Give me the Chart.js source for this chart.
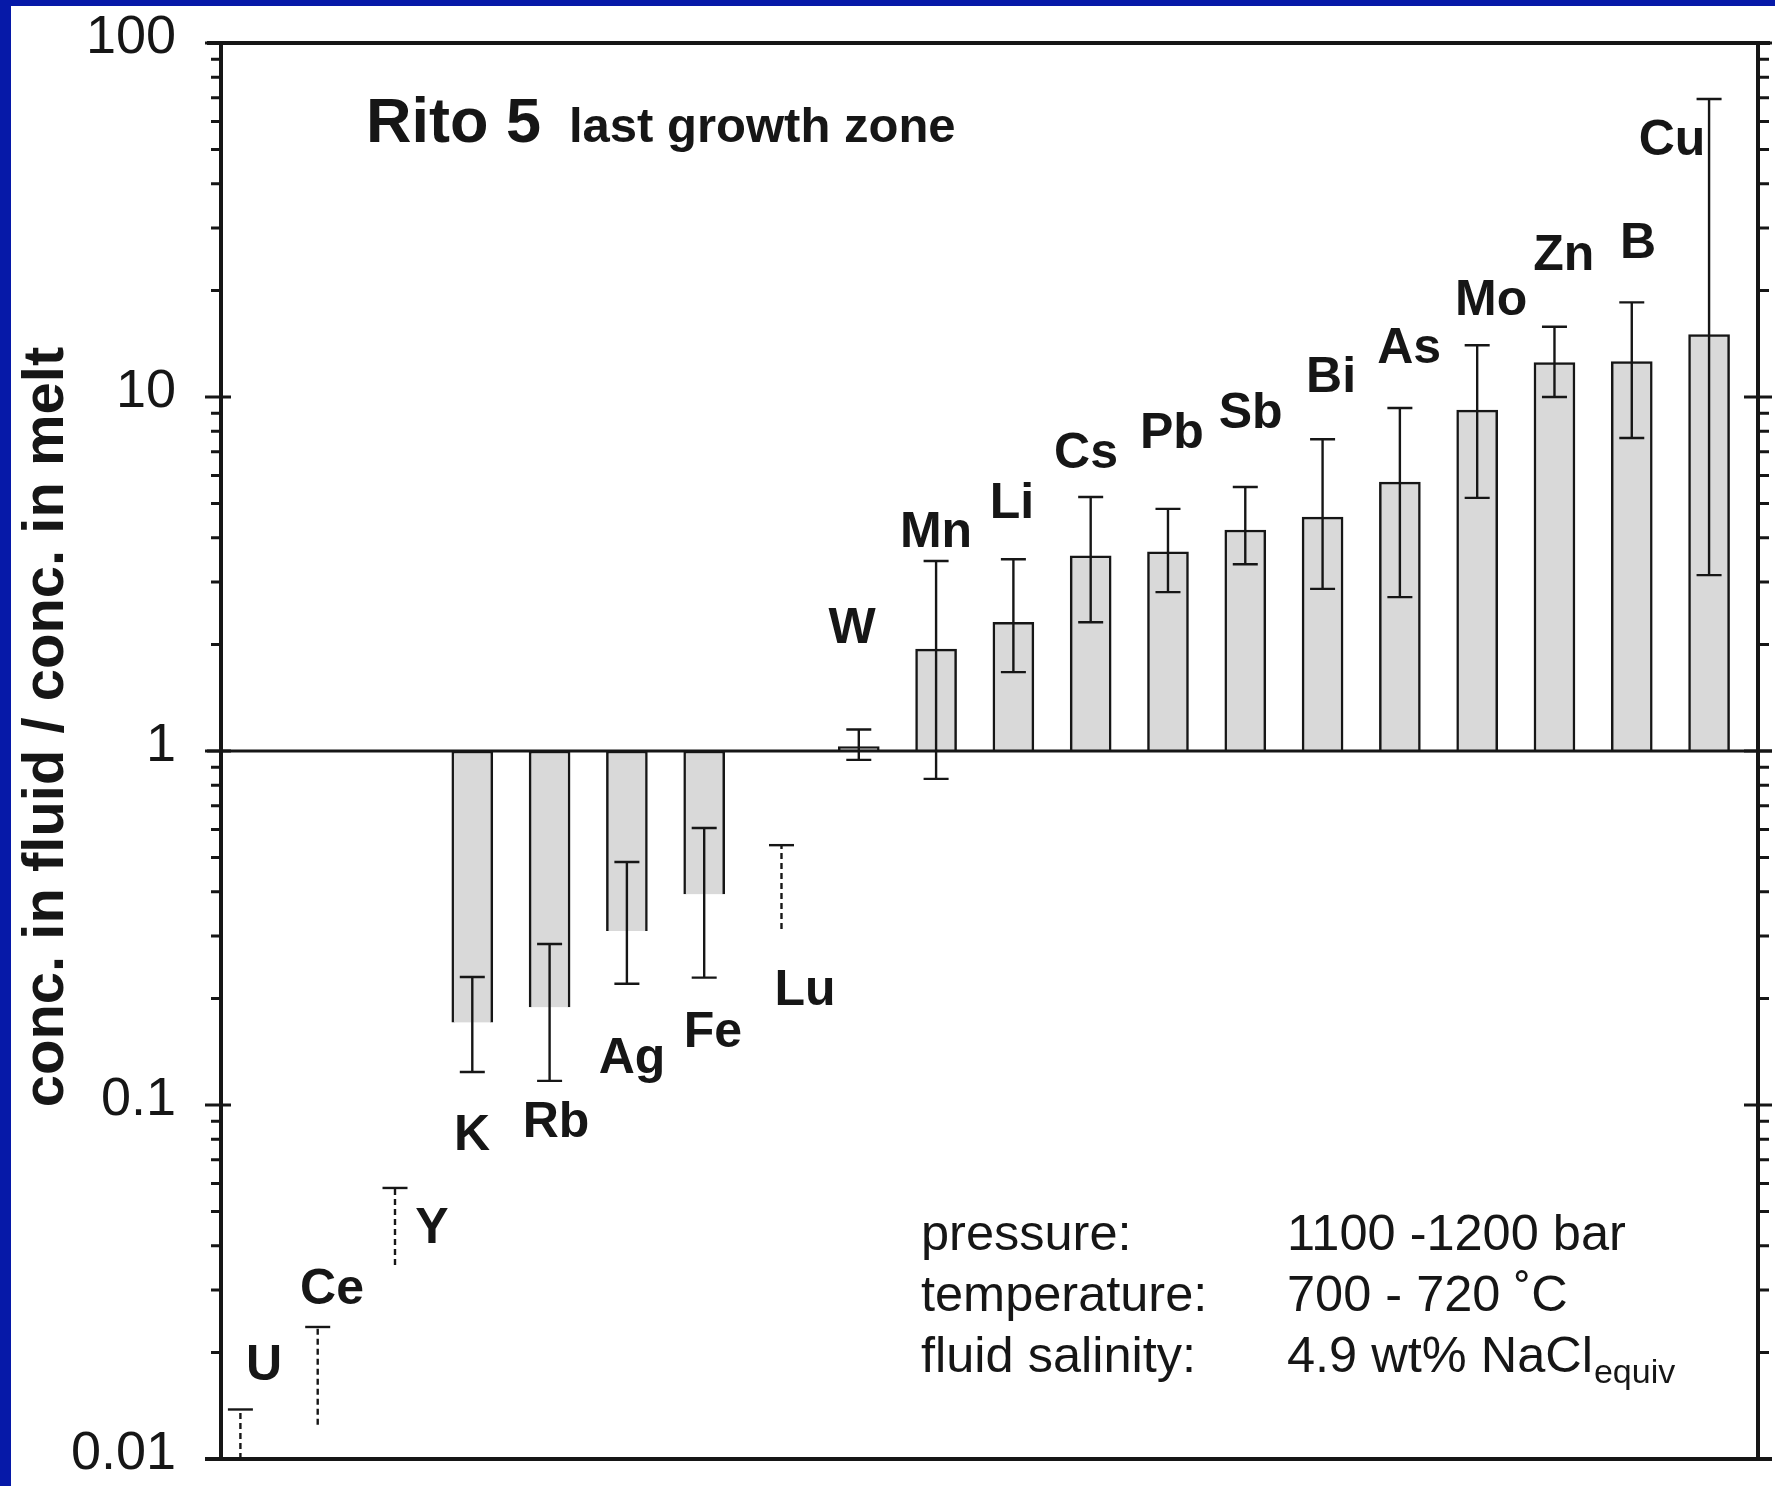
<!DOCTYPE html>
<html>
<head>
<meta charset="utf-8">
<title>Rito 5 last growth zone</title>
<script src="https://cdn.jsdelivr.net/npm/chart.js@4.4.1/dist/chart.umd.min.js"></script>
<style>
  html, body { margin: 0; padding: 0; background: #fff; }
  #wrap { position: relative; width: 1775px; height: 1486px; }
</style>
</head>
<body>
<div id="wrap"><canvas id="c" width="1775" height="1486"></canvas></div>
<script>
// Fluid/melt partition coefficients, ordered by increasing value
const elements = ['U', 'Ce', 'Y', 'K', 'Rb', 'Ag', 'Fe', 'Lu', 'W', 'Mn', 'Li', 'Cs', 'Pb', 'Sb', 'Bi', 'As', 'Mo', 'Zn', 'B', 'Cu'];
// Mean ratio (null where only an upper limit exists)
const ratio = [null, null, null, 0.171, 0.189, 0.310, 0.394, null, 1.03, 1.94, 2.31, 3.56, 3.65, 4.21, 4.58, 5.75, 9.18, 12.5, 12.6, 15.0];
// Error range, lower and upper ends
const errLow = [0.01, 0.0125, 0.0353, 0.124, 0.117, 0.220, 0.229, 0.314, 0.944, 0.834, 1.67, 2.31, 2.81, 3.37, 2.87, 2.72, 5.19, 10.0, 7.66, 3.14];
const errHigh = [0.0138, 0.0236, 0.0583, 0.230, 0.285, 0.486, 0.606, 0.542, 1.15, 3.44, 3.48, 5.22, 4.83, 5.57, 7.60, 9.31, 14.0, 15.8, 18.5, 69.5];
// Elements known only as an upper limit (dashed range)
const upperLimitOnly = [true, true, true, false, false, false, false, true, false, false, false, false, false, false, false, false, false, false, false, false];
// Axis tick values and their labels
const tickValues = [0.01, 0.1, 1, 10, 100];
const tickLabels = ['0.01', '0.1', '1', '10', '100'];
// Where each element symbol sits, in axis units (slot, ratio at baseline)
const labelSlot = [0.305, 1.185, 2.479, 2.997, 4.083, 5.066, 6.114, 7.304, 7.913, 8.999, 9.982, 10.94, 12.05, 13.07, 14.11, 15.12, 16.18, 17.12, 18.08, 18.52];
const labelRatio = [0.0167, 0.0274, 0.0407, 0.0746, 0.0812, 0.123, 0.146, 0.192, 2.02, 3.77, 4.55, 6.30, 7.18, 8.17, 10.3, 12.5, 17.1, 22.8, 24.7, 48.3];
// Run conditions
const conditionNames = ['pressure:', 'temperature:', 'fluid salinity:'];
const conditionValues = ['1100 -1200 bar', '700 - 720 \u02DAC', '4.9 wt% NaCl'];

const FONT = '"Liberation Sans", Arial, Helvetica, sans-serif';
const INK = '#161616';

const barData = elements.map((e, i) => ({ x: i, y: ratio[i] == null ? null : [1, ratio[i]] }));

const decor = {
  id: 'decor',
  beforeDraw(chart) {
    const ctx = chart.ctx;
    ctx.save();
    ctx.fillStyle = '#ffffff';
    ctx.fillRect(0, 0, chart.width, chart.height);
    ctx.fillStyle = '#0619a8';
    ctx.fillRect(0, 0, chart.width, 6);
    ctx.fillRect(0, 0, 11, chart.height);
    ctx.restore();
  },
  afterDatasetsDraw(chart) {
    const { ctx, chartArea: a, scales: { x, y } } = chart;
    ctx.save();
    ctx.strokeStyle = INK;
    ctx.fillStyle = INK;

    // unity line
    const y1 = y.getPixelForValue(1);
    ctx.lineWidth = 3;
    ctx.beginPath();
    ctx.moveTo(a.left - 14, y1);
    ctx.lineTo(a.right + 14, y1);
    ctx.stroke();

    // error ranges
    const cap = 12.5;
    elements.forEach((e, i) => {
      const px = x.getPixelForValue(i);
      const lo = y.getPixelForValue(errLow[i]);
      const hi = y.getPixelForValue(errHigh[i]);
      ctx.lineWidth = 2.4;
      ctx.setLineDash(upperLimitOnly[i] ? [6, 4] : []);
      ctx.beginPath();
      ctx.moveTo(px, lo);
      ctx.lineTo(px, hi);
      ctx.stroke();
      ctx.setLineDash([]);
      ctx.beginPath();
      ctx.moveTo(px - cap, hi);
      ctx.lineTo(px + cap, hi);
      if (!upperLimitOnly[i]) {
        ctx.moveTo(px - cap, lo);
        ctx.lineTo(px + cap, lo);
      }
      ctx.stroke();
    });

    // frame
    ctx.lineWidth = 4;
    ctx.beginPath();
    ctx.moveTo(a.left - 14, a.top);
    ctx.lineTo(a.right + 12, a.top);
    ctx.moveTo(a.left, a.top);
    ctx.lineTo(a.left, a.bottom);
    ctx.moveTo(a.right, a.top);
    ctx.lineTo(a.right, a.bottom);
    ctx.moveTo(a.left - 16, a.bottom);
    ctx.lineTo(a.right + 14, a.bottom);
    ctx.stroke();

    // log ticks on both vertical axes
    ctx.lineWidth = 3;
    ctx.beginPath();
    for (let d = 0; d < tickValues.length; d++) {
      const base = tickValues[d];
      const py = y.getPixelForValue(base);
      const inner = d > 0 && d < tickValues.length - 1;
      ctx.moveTo(a.left - 16, py);
      ctx.lineTo(a.left + (inner ? 10 : 0), py);
      ctx.moveTo(a.right - (inner ? 14 : 0), py);
      ctx.lineTo(a.right + 14, py);
      if (d === tickValues.length - 1) break;
      for (let k = 2; k <= 9; k++) {
        const pm = y.getPixelForValue(base * k);
        ctx.moveTo(a.left - 10, pm);
        ctx.lineTo(a.left, pm);
        ctx.moveTo(a.right, pm);
        ctx.lineTo(a.right + 11, pm);
      }
    }
    ctx.stroke();

    // element symbols
    ctx.font = 'bold 50px ' + FONT;
    ctx.textAlign = 'center';
    ctx.textBaseline = 'alphabetic';
    elements.forEach((e, i) => {
      ctx.fillText(e, x.getPixelForValue(labelSlot[i]), y.getPixelForValue(labelRatio[i]));
    });

    // heading
    ctx.textAlign = 'left';
    ctx.font = 'bold 63px ' + FONT;
    ctx.fillText('Rito 5', a.left + 145, a.top + 99);
    ctx.font = 'bold 49px ' + FONT;
    ctx.fillText('last growth zone', a.left + 348, a.top + 99);

    // run conditions
    ctx.font = '50.5px ' + FONT;
    conditionNames.forEach((t, r) => {
      const by = a.top + 1207 + r * 61;
      ctx.fillText(t, a.left + 700, by);
      ctx.fillText(conditionValues[r], a.left + 1066, by);
      if (r === 2) {
        const w = ctx.measureText(conditionValues[r]).width;
        ctx.font = '34px ' + FONT;
        ctx.fillText('equiv', a.left + 1066 + w + 1, by + 11);
        ctx.font = '50.5px ' + FONT;
      }
    });

    // value-axis title
    ctx.save();
    ctx.translate(47, 727);
    ctx.rotate(-Math.PI / 2);
    ctx.textAlign = 'center';
    ctx.textBaseline = 'middle';
    ctx.font = 'bold 58px ' + FONT;
    ctx.fillText('conc. in fluid / conc. in melt', 0, 0);
    ctx.restore();

    ctx.restore();
  }
};

new Chart(document.getElementById('c'), {
  type: 'bar',
  data: {
    datasets: [{
      data: barData,
      backgroundColor: '#d9d9d9',
      borderColor: INK,
      borderWidth: 2.5,
      borderSkipped: 'start',
      barThickness: 41,
      grouped: false
    }]
  },
  options: {
    responsive: false,
    animation: false,
    devicePixelRatio: 1,
    layout: { padding: { top: 43, right: 17, bottom: 27, left: 0 } },
    plugins: { legend: { display: false }, tooltip: { enabled: false }, title: { display: false } },
    scales: {
      x: {
        type: 'linear',
        min: -0.251,
        max: 19.633,
        offset: false,
        display: false
      },
      y: {
        type: 'logarithmic',
        min: 0.01,
        max: 100,
        border: { display: false },
        grid: { display: false, drawTicks: false },
        afterBuildTicks(scale) {
          scale.ticks = tickValues.map(v => ({ value: v, major: true }));
        },
        afterFit(scale) {
          scale.width = 221;
          scale.paddingTop = 0;
          scale.paddingBottom = 0;
        },
        ticks: {
          autoSkip: false,
          padding: 45,
          labelOffset: -5,
          color: INK,
          font: { family: FONT, size: 54 },
          callback: (v, i) => tickLabels[i]
        }
      }
    }
  },
  plugins: [decor]
});
</script>
</body>
</html>
